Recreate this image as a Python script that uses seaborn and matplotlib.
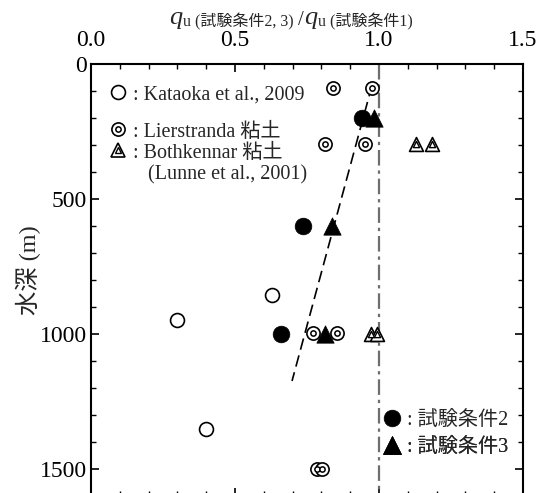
import matplotlib
matplotlib.use("Agg")
import matplotlib.pyplot as plt
import seaborn as sns
import pandas as pd
import numpy as np
from matplotlib.lines import Line2D
from matplotlib.legend_handler import HandlerTuple
from matplotlib.ticker import MultipleLocator

# ---------------- data ----------------
kataoka_x = [0.63, 0.30, 0.40]
kataoka_y = [855, 948, 1352]

lier_x = [0.84, 0.976, 0.813, 0.95, 0.771, 0.854, 0.785, 0.802]
lier_y = [89, 89, 296, 296, 997, 997, 1500, 1500]

both_x = [1.128, 1.184, 0.972, 0.993]
both_y = [295, 295, 1000, 1000]

cond2_x = [0.94, 0.736, 0.66]
cond2_y = [200, 600, 1000]

cond3_x = [0.983, 0.837, 0.813]
cond3_y = [200, 600, 1000]

trend_x = [0.976, 0.698]
trend_y = [78, 1174]

ref_x = [1.0, 1.0]
ref_y = [0, 1600]

xticks = [0.0, 0.5, 1.0, 1.5]
yticks = [0, 500, 1000, 1500]

# ---------------- style ----------------
sns.set_style("ticks")
MIX = ["Liberation Serif", "Noto Sans CJK JP", "DejaVu Sans"]
plt.rcParams["font.family"] = MIX

W, H = 542, 493
fig = plt.figure(figsize=(W / 100, H / 100), dpi=100)
ax = fig.add_axes([91 / W, -3 / H, 432 / W, 432 / H])

# reference line and trend
sns.lineplot(x=ref_x, y=ref_y, ax=ax, color="#6e6e6e", lw=1.6,
             linestyle=(0, (7, 2.2, 1.5, 2.2)), sort=False, estimator=None, zorder=1)
sns.lineplot(x=trend_x, y=trend_y, ax=ax, color="black", lw=1.2,
             linestyle=(0, (7, 3.5)), sort=False, estimator=None, zorder=2)

# Kataoka open circles
sns.scatterplot(x=kataoka_x, y=kataoka_y, ax=ax, marker="o", s=10 ** 2,
                facecolor="white", edgecolor="black", linewidth=1.2, zorder=3)
# Lierstranda double circles
sns.scatterplot(x=lier_x, y=lier_y, ax=ax, marker="o", s=9.5 ** 2,
                facecolor="white", edgecolor="black", linewidth=1.2, zorder=3)
sns.scatterplot(x=lier_x, y=lier_y, ax=ax, marker="o", s=3.8 ** 2,
                facecolor="white", edgecolor="black", linewidth=1.1, zorder=3)
# Bothkennar double triangles
sns.scatterplot(x=both_x, y=both_y, ax=ax, marker="^", s=10 ** 2,
                facecolor="white", edgecolor="black", linewidth=1.2, zorder=3)
sns.scatterplot(x=both_x, y=both_y, ax=ax, marker="^", s=4.5 ** 2,
                facecolor="white", edgecolor="black", linewidth=1.0, zorder=3)
# condition 2 / 3
sns.scatterplot(x=cond2_x, y=cond2_y, ax=ax, marker="o", s=12 ** 2,
                color="black", edgecolor="black", linewidth=0.5, zorder=4)
sns.scatterplot(x=cond3_x, y=cond3_y, ax=ax, marker="^", s=12.5 ** 2,
                color="black", edgecolor="black", linewidth=0.5, zorder=4)

# ---------------- axes ----------------
ax.set_xlim(0, 1.5)
ax.set_ylim(1600, 0)
ax.set_xticks(xticks)
ax.set_xticklabels([f"{v:.1f}" for v in xticks])
ax.set_yticks(yticks)
ax.set_yticklabels([str(v) for v in yticks])
ax.xaxis.set_minor_locator(MultipleLocator(0.1))
ax.yaxis.set_minor_locator(MultipleLocator(100))
ax.tick_params(axis="both", which="both", direction="in", top=True, bottom=True,
               left=True, right=True, labeltop=True, labelbottom=False,
               labelleft=True, labelright=False, labelsize=17, colors="black")
ax.tick_params(axis="both", which="major", length=6, width=1.2)
ax.tick_params(axis="both", which="minor", length=3.5, width=1.0)
ax.tick_params(axis="x", which="major", pad=9)
ax.tick_params(axis="y", which="major", pad=3)
for sp in ax.spines.values():
    sp.set_linewidth(1.5)
    sp.set_color("black")
    sp.set_visible(True)
ax.set_xlabel("")
ax.set_ylabel("")

fig.text(28 / W, 1 - 270 / H, "水深 (m)", rotation=90, ha="center", va="center",
         fontsize=17.5, family=MIX)

# composite top label, pieces placed left to right on a shared baseline
parts = [("q", dict(fontsize=19, family="Liberation Serif", style="italic"), 0),
         ("u (試験条件2, 3) ", dict(fontsize=11.5, family=MIX), -2),
         ("/", dict(fontsize=15, family="Liberation Serif"), -1),
         ("q", dict(fontsize=19, family="Liberation Serif", style="italic"), 0),
         ("u (試験条件1)", dict(fontsize=11.5, family=MIX), -2)]
renderer = fig.canvas.get_renderer()
x_cur = 169.0
base_y = H - 24.0
for txt, props, dy in parts:
    t = fig.text(x_cur / W, (base_y + dy) / H, txt, ha="left", va="baseline", **props)
    bb = t.get_window_extent(renderer=renderer)
    x_cur += bb.width + 0.5

# ---------------- legends ----------------
def mk(marker, ms, fc, lw=1.2):
    return Line2D([], [], ls="none", marker=marker, markersize=ms,
                  markerfacecolor=fc, markeredgecolor="black", markeredgewidth=lw)

h_kat = mk("o", 10, "white")
h_lier = (mk("o", 9.5, "white"), mk("o", 3.8, "white", 1.1))
h_both = (mk("^", 10, "white"), mk("^", 4.5, "white", 1.0))
h_c2 = mk("o", 12, "black", 0.5)
h_c3 = mk("^", 12.5, "black", 0.5)

legfont = dict(family=MIX, size=14.5)

def put_legend(handle, label, mx, my, hl=1.0):
    fs_px = 14.5 * 100 / 72
    left = mx - hl * fs_px / 2
    leg = ax.legend([handle], [label], loc="center left",
                    bbox_to_anchor=(left / W, 1 - my / H),
                    bbox_transform=fig.transFigure, frameon=False,
                    borderpad=0, borderaxespad=0, handlelength=hl,
                    handletextpad=0.25, prop=legfont,
                    handler_map={tuple: HandlerTuple(ndivide=1, pad=0)})
    ax.add_artist(leg)

put_legend(h_kat, ": Kataoka et al., 2009", 118, 95)
put_legend(h_lier, ": Lierstranda 粘土", 118, 132)
put_legend(h_both, ": Bothkennar 粘土", 118, 153)
put_legend(h_c2, ": 試験条件2", 392, 420)
put_legend(h_c3, ": 試験条件3", 392, 447)

fig.text(148 / W, 1 - 175 / H, "(Lunne et al., 2001)", ha="left", va="center",
         fontsize=14.5, family="Liberation Serif")

fig.savefig("out.png", dpi=100)
